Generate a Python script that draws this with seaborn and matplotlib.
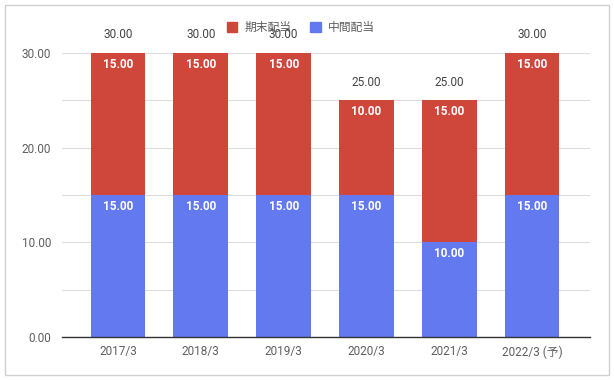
import numpy as np
import pandas as pd
import seaborn as sns
import matplotlib.pyplot as plt
from matplotlib.patches import Rectangle, Patch

# data
years = ['2017/3', '2018/3', '2019/3', '2020/3', '2021/3', '2022/3 (予)']
interim = [15.0, 15.0, 15.0, 15.0, 10.0, 15.0]   # 中間配当
final = [15.0, 15.0, 15.0, 10.0, 15.0, 15.0]     # 期末配当

red = '#CF463B'
blue = '#6279F0'
gray_text = '#5f5f5f'

sns.set_theme(style='white')
plt.rcParams['font.family'] = ['Roboto', 'Noto Sans CJK JP', 'DejaVu Sans']

df = pd.DataFrame({'year': years, 'interim': interim, 'final': final})
df['total'] = df['interim'] + df['final']

fig = plt.figure(figsize=(6.14, 3.80), dpi=100)
ax = fig.add_axes([0.101, 0.113, 0.860, 0.748])

# stacked bars: total in red, interim in blue on top of it
sns.barplot(data=df, x='year', y='total', color=red, width=0.66, saturation=1,
            linewidth=0, ax=ax)
sns.barplot(data=df, x='year', y='interim', color=blue, width=0.66, saturation=1,
            linewidth=0, ax=ax)

ax.set_ylim(0, 30)
ax.set_xlim(-0.676, 5.70)
ax.set_yticks([0, 10, 20, 30])
ax.set_yticklabels(['0.00', '10.00', '20.00', '30.00'])
ax.set_yticks(np.arange(0, 31, 5), minor=True)
ax.grid(axis='y', which='both', color='#dcdcdc', linewidth=0.8)
ax.set_axisbelow(True)
for s in ['top', 'right', 'left']:
    ax.spines[s].set_visible(False)
ax.spines['bottom'].set_color('#333333')
ax.spines['bottom'].set_linewidth(1.0)
ax.tick_params(axis='both', length=0, labelsize=8.5, labelcolor=gray_text)
ax.tick_params(axis='x', pad=6)
ax.tick_params(axis='y', pad=8)
ax.set_xlabel('')
ax.set_ylabel('')

for i, row in df.iterrows():
    ax.text(i, row['interim'] - 0.5, f"{row['interim']:.2f}", ha='center', va='top',
            color='white', fontsize=8.5, fontweight='bold')
    ax.text(i, row['total'] - 0.5, f"{row['final']:.2f}", ha='center', va='top',
            color='white', fontsize=8.5, fontweight='bold')
    ax.text(i, row['total'] + 1.2, f"{row['total']:.2f}", ha='center', va='bottom',
            color='#444444', fontsize=8.5, clip_on=False)

handles = [Patch(color=red, label='期末配当'), Patch(color=blue, label='中間配当')]
fig.legend(handles=handles, loc='center', bbox_to_anchor=(0.49, 0.928), ncol=2,
           frameon=False, fontsize=8.5, handlelength=0.9, handleheight=0.9,
           handletextpad=0.6, columnspacing=1.6, labelcolor=gray_text)

fig.patches.append(Rectangle((5 / 614, 5 / 380), 604 / 614, 370 / 380, transform=fig.transFigure,
                             fill=False, edgecolor='#d0d0d0', linewidth=1.0))

fig.savefig('out.png', dpi=100)
